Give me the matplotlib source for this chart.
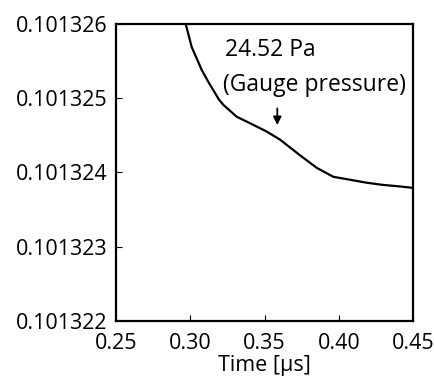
import matplotlib
matplotlib.use("Agg")
import matplotlib.pyplot as plt
import numpy as np

time_us = [0.290, 0.2969, 0.3009, 0.3077, 0.3121, 0.3193, 0.3222, 0.3312, 0.3424,
           0.3514, 0.3604, 0.3738, 0.3851, 0.3962, 0.4075, 0.4187, 0.4299, 0.4411, 0.4500]
pressure_mpa = [0.1013263, 0.10132600, 0.10132569, 0.10132538, 0.10132522, 0.10132498,
                0.10132491, 0.10132475, 0.10132464, 0.10132455, 0.10132444, 0.10132423,
                0.10132406, 0.10132394, 0.10132390, 0.10132386, 0.10132383, 0.10132381,
                0.10132379]
xticks = [0.25, 0.30, 0.35, 0.40, 0.45]
yticks = [0.101322, 0.101323, 0.101324, 0.101325, 0.101326]

plt.rcParams['font.family'] = ['Open Sans', 'DejaVu Sans']
fig = plt.figure(figsize=(4.35, 3.81), dpi=100)
ax = fig.add_axes([116/435, 1-320.7/381, (413.3-116)/435, (320.7-24)/381])
ax.plot(time_us, pressure_mpa, color='black', lw=1.6)
ax.set_xlim(0.25, 0.45)
ax.set_ylim(0.101322, 0.101326)
ax.set_xticks(xticks)
ax.set_xticklabels([f"{v:.2f}" for v in xticks])
ax.set_yticks(yticks)
ax.set_yticklabels([f"{v:.6f}" for v in yticks])
ax.tick_params(direction='in', length=4, width=0.8, labelsize=15.5)
ax.tick_params(axis='y', pad=6)
ax.tick_params(axis='x', pad=9)
for s in ax.spines.values():
    s.set_linewidth(1.6)
ax.set_xlabel('Time [μs]', fontsize=15.5, labelpad=0.5)
ax.text(0.3234, 0.10132565, '24.52 Pa', fontsize=16.5, ha='left', va='center')
ax.text(0.3220, 0.10132518, '(Gauge pressure)', fontsize=16.5, ha='left', va='center')
ax.annotate('', xy=(0.3585, 0.10132460), xytext=(0.3585, 0.10132490),
            arrowprops=dict(arrowstyle='-|>', color='black', lw=1.3, mutation_scale=12))
fig.savefig('out.png', dpi=100)
